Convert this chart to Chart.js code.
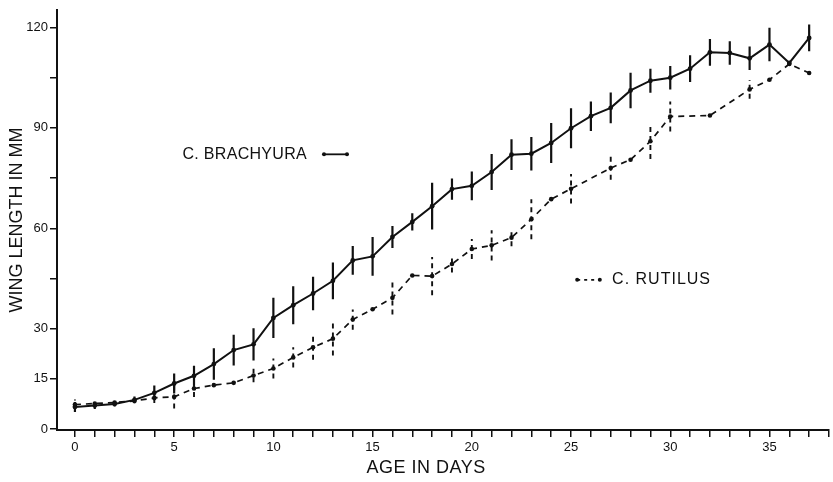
<!DOCTYPE html>
<html>
<head>
<meta charset="utf-8">
<script src="https://cdn.jsdelivr.net/npm/chart.js@4/dist/chart.umd.min.js"></script>
<style>
html,body{margin:0;padding:0;background:#fff;}
#wrap{width:833px;height:482px;}
</style>
</head>
<body>
<div id="wrap"><canvas id="c" width="833" height="482"></canvas></div>
<script>
// ---- data ----
const days = [0,1,2,3,4,5,6,7,8,9,10,11,12,13,14,15,16,17,18,19,20,21,22,23,24,25,26,27,28,29,30,31,32,33,34,35,36,37];
const brachyura = [6.6,7.0,7.5,8.7,10.8,13.6,15.9,19.4,23.6,25.3,33.2,37.0,40.5,44.3,50.4,51.6,57.4,61.9,66.6,71.7,72.7,76.8,82.0,82.3,85.5,89.9,93.5,96.0,101.2,104.1,105.0,107.7,112.6,112.4,110.8,114.9,109.4,116.9];
const brachyuraErr = [1.5,1.0,0.8,1.0,2.2,3.0,3.0,4.7,4.6,4.8,6.0,5.7,5.0,5.5,4.3,5.8,3.3,2.6,7.0,3.2,4.3,5.4,4.6,5.0,6.0,6.0,4.4,4.6,5.3,3.6,3.5,4.0,4.0,3.5,3.5,5.0,null,4.0];
const rutilus = [7.3,7.6,7.9,8.4,9.3,9.6,12.1,13.1,13.8,16.0,18.1,21.4,24.4,27.0,32.7,35.8,39.2,45.9,45.7,49.3,53.8,54.9,57.2,62.7,68.7,71.8,null,78.0,80.5,86.0,93.4,null,93.7,null,101.5,104.4,109.1,106.4];
const rutilusErr = [1.5,1.0,null,null,1.5,3.5,2.5,null,null,2.0,3.0,3.0,3.7,5.0,3.0,null,5.0,null,5.7,2.5,3.0,4.5,2.6,6.0,null,4.4,null,3.5,null,5.3,4.5,null,null,null,2.8,null,null,null];
const yLabeled = [0,15,30,60,90,120];
const seriesNames = ['C. BRACHYURA','C. RUTILUS'];
const xTitle = 'AGE IN DAYS';
const yTitle = 'WING LENGTH IN MM';

const ink = '#111';
const FONT = '"Liberation Sans", Arial, sans-serif';

function pts(vals){ return days.map((d,i)=>({x:d,y:vals[i]})); }
function errPts(vals, errs){
  const out=[];
  days.forEach((d,i)=>{
    if(errs[i]==null || vals[i]==null) return;
    out.push({x:d,y:vals[i]-errs[i]});
    out.push({x:d,y:vals[i]+errs[i]});
    out.push({x:d,y:null});
  });
  return out;
}

const annot = {
  id:'annot',
  afterDatasetsDraw(chart){
    const {ctx, scales:{x,y}} = chart;
    ctx.save();
    ctx.fillStyle = ink; ctx.strokeStyle = ink;
    ctx.font = '16px ' + FONT;
    ctx.textBaseline = 'middle';
    ctx.textAlign = 'left';
    try{ ctx.letterSpacing = '0.3px'; }catch(e){}
    // brachyura label
    const by = y.getPixelForValue(82.1);
    ctx.fillText(seriesNames[0], x.getPixelForValue(5.42), by);
    const l1 = x.getPixelForValue(12.55), l2 = x.getPixelForValue(13.71);
    ctx.lineWidth = 1.8; ctx.setLineDash([]);
    ctx.beginPath(); ctx.moveTo(l1,by); ctx.lineTo(l2,by); ctx.stroke();
    [l1,l2].forEach(px=>{ctx.beginPath();ctx.arc(px,by,2,0,Math.PI*2);ctx.fill();});
    // rutilus label
    const ry = y.getPixelForValue(44.6);
    try{ ctx.letterSpacing = '1px'; }catch(e){}
    ctx.fillText(seriesNames[1], x.getPixelForValue(27.07), ry);
    const r1 = x.getPixelForValue(25.31), r2 = x.getPixelForValue(26.45);
    ctx.lineWidth = 1.8; ctx.setLineDash([3,4]);
    ctx.beginPath(); ctx.moveTo(r1,ry); ctx.lineTo(r2,ry); ctx.stroke();
    ctx.setLineDash([]);
    [r1,r2].forEach(px=>{ctx.beginPath();ctx.arc(px,ry,2,0,Math.PI*2);ctx.fill();});
    // x title
    try{ ctx.letterSpacing = '0.5px'; }catch(e){}
    ctx.font = '18px ' + FONT;
    ctx.textAlign = 'center';
    ctx.fillText(xTitle, x.getPixelForValue(17.7), 468);
    ctx.restore();
  }
};

new Chart(document.getElementById('c'), {
  type:'line',
  data:{
    datasets:[
      {label:seriesNames[0], data:pts(brachyura), borderColor:ink, backgroundColor:ink, borderWidth:2, pointRadius:2.4, pointBackgroundColor:ink, pointBorderWidth:0, tension:0},
      {label:seriesNames[1], data:pts(rutilus), borderColor:ink, backgroundColor:ink, borderWidth:1.7, borderDash:[6,5], spanGaps:true, pointRadius:2.3, pointBackgroundColor:ink, pointBorderWidth:0, tension:0},
      {label:'err1', data:errPts(brachyura, brachyuraErr), borderColor:ink, borderWidth:2.2, pointRadius:0, spanGaps:false},
      {label:'err2', data:errPts(rutilus, rutilusErr), borderColor:ink, borderWidth:1.9, borderDash:[5,4], pointRadius:0, spanGaps:false}
    ]
  },
  options:{
    responsive:false,
    animation:false,
    layout:{padding:{top:5,left:0,right:0,bottom:0}},
    plugins:{legend:{display:false}, tooltip:{enabled:false}},
    scales:{
      x:{
        type:'linear', min:-0.904, max:38.0,
        border:{display:true,color:ink,width:2},
        grid:{display:true, drawOnChartArea:false, drawTicks:true, tickLength:7, color:ink, lineWidth:1.5},
        ticks:{stepSize:1, includeBounds:false, autoSkip:false, maxRotation:0, color:ink, padding:3,
          font:{family:FONT, size:13},
          callback:(v)=> (Number.isInteger(v) && v%5===0) ? String(v) : ''},
        afterFit:(s)=>{ s.height = 52; }
      },
      y:{
        type:'linear', min:-0.3, max:125.3,
        border:{display:true,color:ink,width:2},
        grid:{display:true, drawOnChartArea:false, drawTicks:true, tickLength:7, color:ink, lineWidth:1.5},
        ticks:{stepSize:15, includeBounds:false, autoSkip:false, color:ink, padding:2,
          font:{family:FONT, size:13},
          callback:(v)=> yLabeled.includes(v) ? String(v) : ''},
        title:{display:true, text:yTitle, color:ink, padding:{top:6,bottom:0},
          font:{family:FONT, size:18}},
        afterFit:(s)=>{ s.width = 57; }
      }
    }
  },
  plugins:[annot]
});
</script>
</body>
</html>
